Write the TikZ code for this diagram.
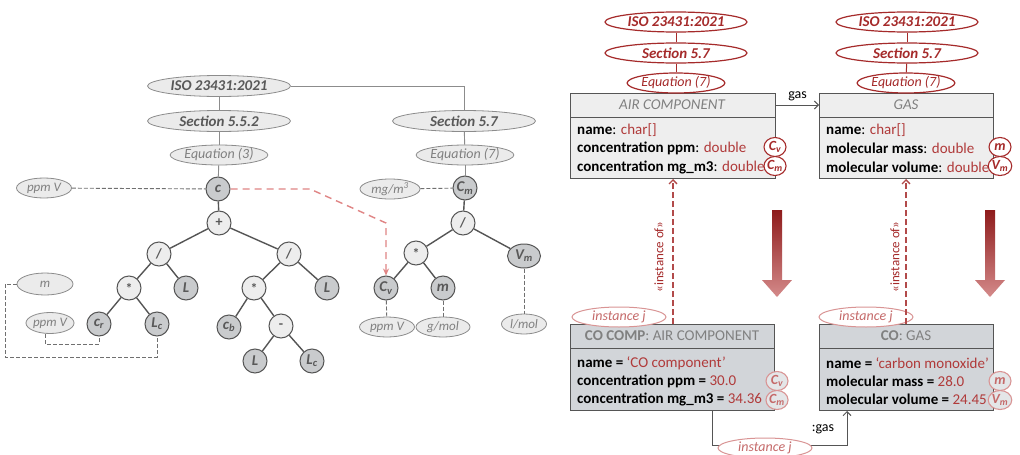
\documentclass[tikz,border=0pt]{standalone}
\usepackage{fontspec}
\setmainfont{Carlito}
\usetikzlibrary{shapes.geometric,arrows.meta}
\definecolor{lgfill}{HTML}{EBEBEB}
\definecolor{lgline}{HTML}{8C8C8C}
\definecolor{dashg}{HTML}{707070}
\definecolor{gtext}{HTML}{595959}
\definecolor{ltext}{HTML}{808080}
\definecolor{opfill}{HTML}{EDEDED}
\definecolor{varfill}{HTML}{C9CBCD}
\definecolor{edgec}{HTML}{555555}
\definecolor{dred}{HTML}{A52A2A}
\definecolor{rtext}{HTML}{B03A3A}
\definecolor{pinkc}{HTML}{D99494}
\definecolor{pinktext}{HTML}{C56A6A}
\definecolor{boxfill}{HTML}{EEEEEE}
\definecolor{iboxfill}{HTML}{D2D5D9}
\definecolor{reddash}{HTML}{E08585}
\definecolor{bigtop}{HTML}{8E1B1B}
\definecolor{bigbot}{HTML}{D48A8A}
\tikzset{
  gell/.style={ellipse, draw=lgline, fill=lgfill, inner sep=0pt, line width=0.8pt},
  gbig/.style={gell, minimum width=143, minimum height=21, font=\fontsize{15}{16}\selectfont\bfseries\itshape, text=gtext},
  geq/.style={gell, minimum width=95, minimum height=20, font=\fontsize{14}{15}\selectfont\itshape, text=ltext},
  gunit/.style={gell, minimum height=20, font=\fontsize{13}{14}\selectfont\itshape, text=ltext},
  opc/.style={circle, draw=edgec, fill=opfill, line width=1pt, minimum size=24, inner sep=0pt, font=\fontsize{14}{15}\selectfont\bfseries, text=gtext},
  varc/.style={opc, fill=varfill, font=\fontsize{15}{16}\selectfont\bfseries\itshape},
  tedge/.style={draw=edgec, line width=1.4pt},
  thinl/.style={draw=lgline, line width=0.9pt},
  gdash/.style={draw=dashg, dash pattern=on 4pt off 2pt, line width=0.9pt},
  rbig/.style={ellipse, draw=dred, fill=white, line width=1.2pt, minimum width=142, minimum height=20, inner sep=0pt, font=\fontsize{15}{16}\selectfont\bfseries\itshape, text=dred},
  req/.style={rbig, minimum width=95, font=\fontsize{14}{15}\selectfont\itshape},
  rcirc/.style={ellipse, draw=dred, fill=white, line width=1.1pt, minimum width=22, minimum height=19, inner sep=0pt, font=\fontsize{14}{15}\selectfont\bfseries\itshape, text=dred},
  pcirc/.style={rcirc, draw=pinkc, text=pinktext, fill=iboxfill!60!white},
  umlbox/.style={rectangle, draw=edgec, line width=1pt, inner sep=0pt, anchor=north west},
  boxl/.style={draw=edgec, line width=1pt},
  attr/.style={anchor=west, inner sep=0pt, font=\fontsize{15}{17}\selectfont, text=black},
  hdr/.style={inner sep=0pt, font=\fontsize{15}{17}\selectfont, text=ltext},
  inst/.style={ellipse, draw=pinkc, fill=white, line width=1pt, minimum width=94, minimum height=20, inner sep=0pt, font=\fontsize{14}{15}\selectfont\itshape, text=pinktext},
  instof/.style={draw=dred!85!white, dash pattern=on 6pt off 3pt, line width=1.3pt, -{Straight Barb[length=4pt,width=8pt]}},
  solarr/.style={draw=edgec, line width=1pt, -{Straight Barb[length=4pt,width=8pt]}},
  lbl/.style={inner sep=1pt, font=\fontsize{14}{15}\selectfont, text=black}
}
\begin{document}
\begin{tikzpicture}[x=1pt,y=-1pt]
\useasboundingbox (0,0) rectangle (1020,455);
\fill[white] (0,0) rectangle (1020,455);

% ---------- left formula tree ----------
\node[gbig] (iso) at (219,86) {ISO 23431:2021};
\node[gbig] (s552) at (219,121) {Section 5.5.2};
\node[geq] (eq3) at (219,155) {Equation (3)};
\node[gunit, minimum width=55] (uppm) at (44,188) {ppm V};
\node[varc] (c) at (218,189) {c};
\node[opc] (plus) at (219,223) {+};
\node[opc] (d1) at (159,254) {/};
\node[opc] (d2) at (289,254) {/};
\node[opc] (m1) at (129,288) {*};
\node[varc] (L1) at (186,288) {L};
\node[varc] (cr) at (99,324) {c\textsubscript{r}};
\node[varc] (Lc1) at (157,324) {L\textsubscript{c}};
\node[opc] (m2) at (254,288) {*};
\node[varc] (L2) at (327,288) {L};
\node[varc] (cb) at (229,327) {c\textsubscript{b}};
\node[opc] (minus) at (281,326) {-};
\node[varc] (L3) at (255,361) {L};
\node[varc] (Lc2) at (312,361) {L\textsubscript{c}};
\node[gunit, minimum width=56, minimum height=22] (um) at (45,284) {m};
\node[gunit, minimum width=46, minimum height=21] (uppm2) at (50,323) {ppm V};

% ---------- right formula tree ----------
\node[gbig] (s57) at (464,121) {Section 5.7};
\node[geq] (eq7) at (465,155) {Equation (7)};
\node[gunit, minimum width=60] (umg) at (390,189) {mg/m\textsuperscript{3}};
\node[varc] (cm) at (465,188) {C\textsubscript{m}};
\node[opc] (d3) at (463,223) {/};
\node[opc] (m3) at (416,253) {*};
\node[varc, ellipse, minimum width=33, minimum height=24] (vm) at (524,256) {V\textsubscript{m}};
\node[varc] (cv) at (386,288) {C\textsubscript{v}};
\node[varc] (mm) at (443,288) {m};
\node[gunit, minimum width=55] (uppm3) at (387,327) {ppm V};
\node[gunit, minimum width=54] (ugmol) at (443,327) {g/mol};
\node[gunit, minimum width=45] (ulmol) at (524,324) {l/mol};

% thin hierarchy lines
\draw[thinl] (iso) -- (s552);
\draw[thinl] (s552) -- (eq3);
\draw[thinl] (eq3) -- (c);
\draw[thinl] (iso.east) -| (s57.north);
\draw[thinl] (s57) -- (eq7);
\draw[thinl] (eq7) -- (cm);

% tree edges
\foreach \a/\b in {c/plus, plus/d1, plus/d2, d1/m1, d1/L1, m1/cr, m1/Lc1, d2/m2, d2/L2, m2/cb, m2/minus, minus/L3, minus/Lc2, cm/d3, d3/m3, d3/vm, m3/cv, m3/mm}
  \draw[tedge] (\a) -- (\b);

% unit dashed links
\draw[gdash] (uppm) -- (c);
\draw[gdash] (umg) -- (cm);
\draw[gdash] (cv) -- (uppm3);
\draw[gdash] (mm) -- (ugmol);
\draw[gdash] (vm) -- (ulmol);
\coordinate (k2) at (45,344);
\draw[gdash] (uppm2.south -| k2) -- (k2) -| (cr.south);
\coordinate (k1) at (5,357);
\draw[gdash] (um.west) -| (k1) -| (Lc1.south);

% red dashed link c -> C_v
\coordinate (r1) at (310,189);
\coordinate (r2) at (386,223);
\draw[draw=reddash, line width=1.4pt, dash pattern=on 7pt off 5pt, -{Stealth[length=7pt,width=6pt]}] (c.east) -- (r1) -- (r2) -- (cv.north);

% ---------- UML class level ----------
\node[umlbox, fill=boxfill, minimum width=205, minimum height=85] (air) at (570,93) {};
\draw[boxl] ([yshift=-24pt]air.north west) -- ([yshift=-24pt]air.north east);
\node[hdr, font=\fontsize{15}{17}\selectfont\itshape] (airh) at (672,105) {AIR COMPONENT};
\node[attr] (a1) at (577,130) {\textbf{name}: \textcolor{rtext}{char[]}};
\node[attr] (a2) at (577,148) {\textbf{concentration ppm}: \textcolor{rtext}{double}};
\node[attr] (a3) at (577,167) {\textbf{concentration mg\_m3}: \textcolor{rtext}{double}};

\node[umlbox, fill=boxfill, minimum width=174, minimum height=85] (gas) at (819,93) {};
\draw[boxl] ([yshift=-24pt]gas.north west) -- ([yshift=-24pt]gas.north east);
\node[hdr, font=\fontsize{15}{17}\selectfont\itshape] (gash) at (906,105) {GAS};
\node[attr] (g1) at (826,130) {\textbf{name}: \textcolor{rtext}{char[]}};
\node[attr] (g2) at (826,148) {\textbf{molecular mass}: \textcolor{rtext}{double}};
\node[attr] (g3) at (826,167) {\textbf{molecular volume}: \textcolor{rtext}{double}};

\node[rbig] (iso1) at (676,22) {ISO 23431:2021};
\node[rbig] (sec1) at (676,53) {Section 5.7};
\node[req] (eqa) at (676,83) {Equation (7)};
\draw[dred, line width=1pt] (iso1) -- (sec1);
\draw[dred, line width=1pt] (sec1) -- (eqa);
\node[rbig] (iso2) at (907,22) {ISO 23431:2021};
\node[rbig] (sec2) at (907,53) {Section 5.7};
\node[req] (eqb) at (906,83) {Equation (7)};
\draw[dred, line width=1pt] (iso2) -- (sec2);
\draw[dred, line width=1pt] (sec2) -- (eqb);

\node[rcirc] (acv) at (775,147) {C\textsubscript{v}};
\node[rcirc] (acm) at (775,166) {C\textsubscript{m}};
\node[rcirc] (gm) at (1000,147) {m};
\node[rcirc] (gvm) at (1000,166) {V\textsubscript{m}};

\draw[solarr] (air.east |- airh) -- node[lbl, above=3pt] (gaslbl) {gas} (gas.west |- airh);

% ---------- big gradient arrows ----------
\shade[top color=bigtop, bottom color=bigbot] (772,210) -- (782,210) -- (782,280) -- (792,280) -- (777,297) -- (762,280) -- (772,280) -- cycle;
\shade[top color=bigtop, bottom color=bigbot] (985,210) -- (995,210) -- (995,280) -- (1005,280) -- (990,297) -- (975,280) -- (985,280) -- cycle;

% ---------- UML instance level ----------
\node[umlbox, fill=iboxfill, minimum width=204, minimum height=86] (coc) at (570,324) {};
\draw[boxl] ([yshift=-24pt]coc.north west) -- ([yshift=-24pt]coc.north east);
\node[hdr] (coch) at (672,336) {\textbf{CO COMP}: AIR COMPONENT};
\node[attr] (c1) at (577,363) {\textbf{name =} \textcolor{rtext}{‘CO component’}};
\node[attr] (c2) at (577,381) {\textbf{concentration ppm =} \textcolor{rtext}{30.0}};
\node[attr] (c3) at (577,399) {\textbf{concentration mg\_m3 =} \textcolor{rtext}{34.36}};

\node[umlbox, fill=iboxfill, minimum width=174, minimum height=86] (cog) at (819,324) {};
\draw[boxl] ([yshift=-24pt]cog.north west) -- ([yshift=-24pt]cog.north east);
\node[hdr] (cogh) at (906,336) {\textbf{CO}: GAS};
\node[attr] (o1) at (826,363) {\textbf{name =} \textcolor{rtext}{‘carbon monoxide’}};
\node[attr] (o2) at (826,381) {\textbf{molecular mass =} \textcolor{rtext}{28.0}};
\node[attr] (o3) at (826,399) {\textbf{molecular volume =} \textcolor{rtext}{24.45}};

\node[pcirc] (icv) at (777,381) {C\textsubscript{v}};
\node[pcirc] (icm) at (777,400) {C\textsubscript{m}};
\node[pcirc] (im) at (1000,381) {m};
\node[pcirc] (ivm) at (1000,400) {V\textsubscript{m}};

\node[inst] (ij1) at (619,317) {instance j};
\node[inst] (ij2) at (866,317) {instance j};

\coordinate (ia) at (673,0);
\coordinate (ib) at (906,0);
\draw[instof] (coc.north -| ia) -- (air.south -| ia);
\draw[instof] (cog.north -| ib) -- (gas.south -| ib);
\node[rotate=90, inner sep=0pt, font=\fontsize{13}{14}\selectfont, text=dred] (io1) at (659,257) {«instance of»};
\node[rotate=90, inner sep=0pt, font=\fontsize{13}{14}\selectfont, text=dred] (io2) at (895,257) {«instance of»};

\coordinate (b1) at (712,445);
\coordinate (b2) at (847,445);
\draw[solarr] (coc.south -| b1) -- (b1) -- (b2) -- (cog.south -| b2);
\node[lbl] (gl2) at (823,429) {:gas};
\node[inst] (ij3) at (765,448) {instance j};
\end{tikzpicture}
\end{document}
